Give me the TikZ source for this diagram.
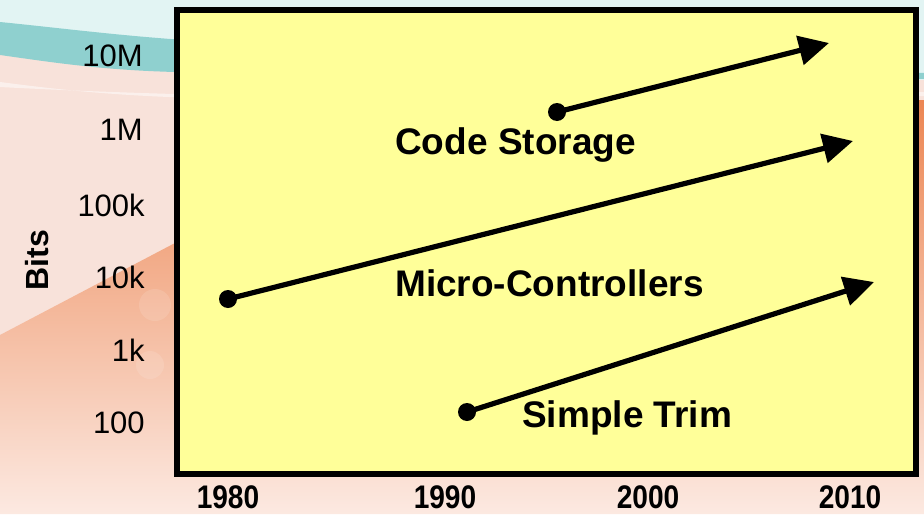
\documentclass[tikz,border=0pt]{standalone}
\usepackage{fontspec}
\setmainfont{Liberation Sans}
\newfontfamily\narrowfont[FakeStretch=0.86]{Liberation Sans}
\usetikzlibrary{arrows.meta, positioning}

\definecolor{panelyellow}{HTML}{FFFF99}
\definecolor{skyteal}{HTML}{E2F4F3}
\definecolor{swoosh}{HTML}{8FD0CF}
\definecolor{blush}{HTML}{F8E2DA}
\definecolor{warmorange}{HTML}{EC8653}
\definecolor{paleorange}{HTML}{FCE9E1}

\begin{document}
\begin{tikzpicture}[x=0.75pt, y=-0.75pt, >={Triangle[length=22.5pt, width=21.75pt]},
    tick/.style={anchor=east, font=\fontsize{23.25}{26}\selectfont, inner sep=0pt},
    year/.style={font=\narrowfont\bfseries\fontsize{24.5}{27}\selectfont, inner sep=0pt},
    trend/.style={->, line width=3.9pt},
    dot/.style={circle, fill=black, minimum size=13.5pt, inner sep=0pt},
    caption/.style={font=\bfseries\fontsize{27.75}{32}\selectfont, inner sep=0pt}]
				\useasboundingbox (0,0) rectangle (924,514);
				% backdrop
				\fill[blush] (0,0) rectangle (924,514);
				\fill[skyteal] (0,0) -- (924,0) -- (924,80) .. controls (600,78) and (250,60) .. (0,40) -- cycle;
				\fill[swoosh] (0,22) .. controls (80,30) and (150,40) .. (260,44) .. controls (500,55) and (750,70) .. (924,73)
				  -- (924,79) .. controls (700,78) and (400,76) .. (175,72) .. controls (100,70) and (50,62) .. (0,55) -- cycle;
				\fill[white, opacity=0.5] (0,82) .. controls (60,90) and (120,96) .. (200,98) .. controls (500,100) and (800,92) .. (924,92)
				  -- (924,96) .. controls (700,100) and (300,103) .. (0,87) -- cycle;
				\shade[top color=warmorange, middle color=warmorange!85!paleorange, bottom color=paleorange]
				  (0,335) -- (175,243) .. controls (400,140) and (800,105) .. (924,100)
				  -- (924,514) -- (0,514) -- cycle;
				\fill[white, opacity=0.12] (155,305) circle (16);
				\fill[white, opacity=0.12] (150,365) circle (14);
				
				% panel
				\node[draw=black, line width=4.1pt, fill=panelyellow, minimum width=554pt, minimum height=348pt, inner sep=0pt] (panel) at (546.5,242) {};
				
				% value axis
				\node[tick] (t10M) at (143,56) {10M};
				\node[tick] (t1M) at (143,130) {1M};
				\node[tick] (t100k) at (145,205) {100k};
				\node[tick] (t10k) at (145,277) {10k};
				\node[tick] (t1k) at (145,350) {1k};
				\node[tick] (t100) at (145,423) {100};
				\node[font=\bfseries\fontsize{24}{28}\selectfont, rotate=90, inner sep=0pt] (bits) at (37,260) {Bits};
				
				% time axis
				\node[year] (y1980) at (228,497) {1980};
				\node[year] (y1990) at (445,497) {1990};
				\node[year] (y2000) at (648,497) {2000};
				\node[year] (y2010) at (850,497) {2010};
				
				% trends
				\node[dot] (codedot) at (557,112) {};
				\coordinate (codetip) at (829,43);
				\node[dot] (microdot) at (228,299) {};
				\coordinate (microtip) at (853,141);
				\node[dot] (trimdot) at (467,412) {};
				\coordinate (trimtip) at (874,282);
				
				\draw[trend] (codedot.center) -- (codetip);
				\draw[trend] (microdot.center) -- (microtip);
				\draw[trend] (trimdot.center) -- (trimtip);
				
				\node[caption, anchor=west] (codelbl) at (395,145) {Code Storage};
				\node[caption, anchor=west] (microlbl) at (395,283) {Micro-Controllers};
				\node[caption, anchor=west] (trimlbl) at (522,418) {Simple Trim};
			\end{tikzpicture}
\end{document}
